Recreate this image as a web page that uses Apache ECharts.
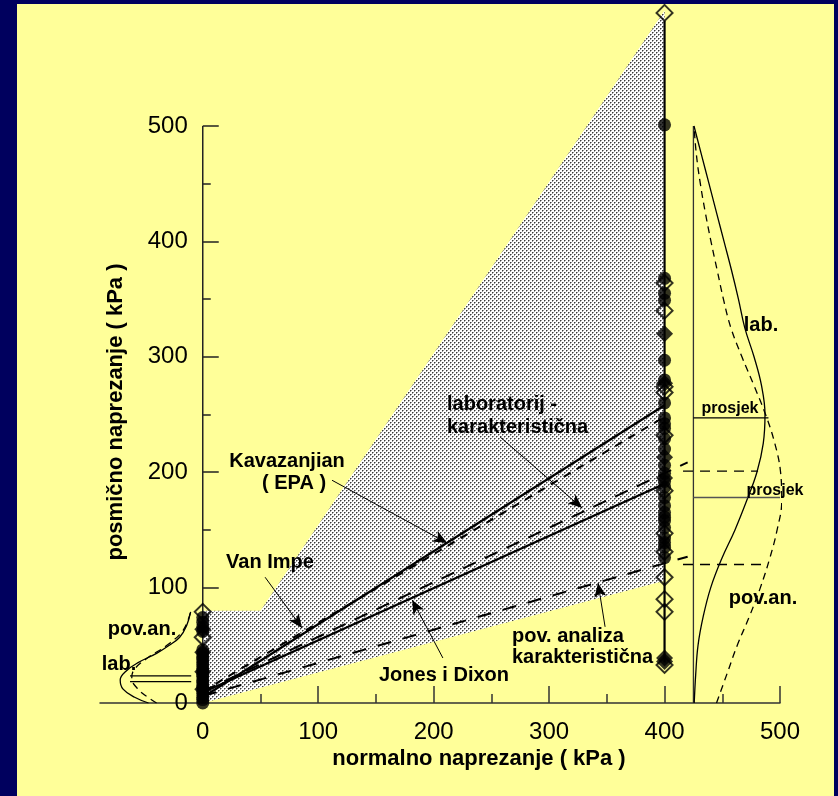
<!DOCTYPE html>
<html>
<head>
<meta charset="utf-8">
<script src="https://cdn.jsdelivr.net/npm/echarts@6/dist/echarts.min.js"></script>
<style>
html,body{margin:0;padding:0;background:#00005e;}
#main{width:838px;height:796px;}
</style>
</head>
<body>
<div id="main"></div>
<script>
// ---------------- data ----------------
const xTickLabels = [0, 100, 200, 300, 400, 500];
const xMajorTicks = [0, 100, 200, 300, 400, 500];
const xMinorTicks = [50, 150, 250, 350, 450];
const yTickLabels = [0, 100, 200, 300, 400, 500];
const yMajorTicks = [100, 200, 300, 400, 500];
const yMinorTicks = [50, 150, 250, 350, 450];

// shaded envelope (normal stress, shear stress)
const shadeX = [0, 0, 50, 400, 400];
const shadeY = [0, 80, 80, 600, 106];

// strength envelopes
const kavX = [0, 400];      const kavY = [5, 258];        // Kavazanjian (EPA)
const vanX = [0, 400];      const vanY = [10, 248];       // Van Impe
const labKarX = [0, 420];   const labKarY = [10, 208.5];  // laboratorij - karakteristična
const jonesX = [0, 400];    const jonesY = [9, 190];      // Jones i Dixon
const povKarX = [0, 420];   const povKarY = [6, 126.8];   // pov. analiza karakteristična

// y-axis line extent
const yAxisLineX = [0, 0];  const yAxisLineY = [0, 500];

// measured points at normal stress 400 kPa
const col400LineX = [400, 400]; const col400LineY = [35, 591];
const col400HollowY = [598, 364, 340, 274, 269, 232, 184, 147, 131, 109, 90, 79, 33];
const col400CircleY = [501, 368, 355, 349, 297, 280, 260, 247, 242, 238, 229, 220, 206, 199, 192, 187, 178, 171, 165, 161, 158, 152, 143, 139, 135, 126];
const col400DiamondY = [320, 277, 213, 195, 39, 36];

// measured points at normal stress 0 kPa
const col0HollowY = [79, 57];
const col0CircleY = [0, 3, 5, 8, 10, 13, 15, 18, 20, 23, 25, 28, 30, 33, 35, 38, 40, 43, 46, 62, 66, 70, 74];
const col0DiamondY = [12, 27, 44, 64];

// right-side distributions (drawn along shear-stress axis, baseline at 425)
const rBaseX = [425, 425]; const rBaseY = [0, 500];
const rLabY = [0, 25, 50, 75, 100, 125, 150, 175, 200, 225, 250, 275, 300, 325, 350, 375, 400, 425, 450, 475, 500];
const rLabX = [425.7, 427, 429, 433.5, 440, 449.5, 461, 471, 480, 485.5, 487, 484, 477.5, 469.5, 464, 458, 451.5, 445, 438.5, 432, 425.5];
const rPovY = [0, 25, 50, 75, 100, 125, 150, 175, 200, 225, 250, 275, 300, 325, 350, 375, 400, 425, 450, 475, 500];
const rPovX = [445, 454, 463, 473.5, 483, 491, 497.5, 501.5, 500.5, 495.5, 487.5, 477.5, 467, 457.5, 451, 445.6, 440.2, 435.3, 431, 427.6, 425.5];
const rLabMeanX = [425, 490];   const rLabMeanY = [247, 247];
const rPovMeanX = [425, 500];   const rPovMeanY = [178, 178];
const rLabKarX = [416, 481];    const rLabKarY = [201, 201];
const rPovKarX = [416, 489];    const rPovKarY = [120, 120];

// left-side distributions (normal stress 0)
const lLabY = [0, 5, 12, 20, 28, 35, 43, 50, 57, 67, 79];
const lLabX = [-47, -59, -69, -71.5, -66, -56, -40, -29, -20, -14, -10.5];
const lPovY = [0, 6, 13, 21, 28, 39, 50, 63, 79];
const lPovX = [-40, -49, -57, -61.5, -60, -48, -31, -17, -10.5];
const lMean1X = [-63, -10]; const lMean1Y = [23.5, 23.5];
const lMean2X = [-63, -10]; const lMean2Y = [18.5, 18.5];

// annotation arrows [fromX, fromY, toX, toY]
const arrowKav = [112, 193, 211.7, 138.6];
const arrowVan = [54, 109, 86, 65];
const arrowLab = [257.6, 230.5, 328.6, 169];
const arrowJones = [208, 39, 181.4, 89.3];
const arrowPov = [348.5, 66, 342.4, 104];

// ---------------- chart ----------------
const FONT = 'Arial, "Liberation Sans", Helvetica, sans-serif';
const zip = (xs, ys) => xs.map((x, i) => [x, ys[i]]);
const col = (x, ys) => ys.map(y => [x, y]);

const GRID_LEFT = 100, GRID_RIGHT = 58, X_MIN = -89, X_MAX = 500;
const plotW = 838 - GRID_LEFT - GRID_RIGHT;
const yAxisOffset = -(0 - X_MIN) / (X_MAX - X_MIN) * plotW; // move y axis onto x = 0

const pat = document.createElement('canvas');
pat.width = 4; pat.height = 4;
const pctx = pat.getContext('2d');
pctx.fillStyle = '#ffffff'; pctx.fillRect(0, 0, 4, 4);
pctx.fillStyle = '#3a3a3a';
pctx.fillRect(0, 0, 1, 1); pctx.fillRect(2, 2, 1, 1);
pctx.fillStyle = '#9a9a9a';
pctx.fillRect(1, 0, 1, 1); pctx.fillRect(0, 1, 1, 1); pctx.fillRect(3, 2, 1, 1); pctx.fillRect(2, 3, 1, 1);

function lineSeries(data, opts) {
  return Object.assign({
    type: 'line', data: data, symbol: 'none', silent: true, z: 3,
    lineStyle: Object.assign({ color: '#000', width: 2, type: 'solid' }, opts.lineStyle || {}),
    smooth: opts.smooth || false,
    animation: false
  }, opts.extra || {});
}
function arrow(a) { return [{ coord: [a[0], a[1]] }, { coord: [a[2], a[3]] }]; }
function label(text, x, y, size, align) {
  return { type: 'text', x: x, y: y, z: 100, silent: true,
    style: { text: text, font: 'bold ' + size + 'px ' + FONT, fill: '#000', textAlign: align || 'center', textVerticalAlign: 'middle' } };
}

const chart = echarts.init(document.getElementById('main'), null, { renderer: 'canvas' });

const option = {
  backgroundColor: '#00005e',
  animation: false,
  grid: { left: GRID_LEFT, right: GRID_RIGHT, top: 10.6, bottom: 93, containLabel: false },
  xAxis: [
    {
      type: 'value', min: X_MIN, max: X_MAX, position: 'bottom',
      axisLine: { show: true, onZero: false, lineStyle: { color: '#333', width: 1.5 } },
      axisTick: { show: true, inside: true, length: 17, customValues: xMajorTicks, lineStyle: { color: '#333', width: 1.5 } },
      axisLabel: { show: true, customValues: xTickLabels, margin: 17, fontSize: 24, color: '#000', fontFamily: FONT },
      splitLine: { show: false }
    },
    {
      type: 'value', min: X_MIN, max: X_MAX, position: 'bottom',
      axisLine: { show: false, onZero: false },
      axisTick: { show: true, inside: true, length: 9, customValues: xMinorTicks, lineStyle: { color: '#333', width: 1.5 } },
      axisLabel: { show: false },
      splitLine: { show: false }
    }
  ],
  yAxis: [
    {
      type: 'value', min: 0, max: 600, position: 'left', offset: yAxisOffset,
      axisLine: { show: false, onZero: false },
      axisTick: { show: true, inside: true, length: 16, customValues: yMajorTicks, lineStyle: { color: '#222', width: 1.5 } },
      axisLabel: { show: true, customValues: yTickLabels, margin: 15, fontSize: 24, color: '#000', fontFamily: FONT },
      splitLine: { show: false }
    },
    {
      type: 'value', min: 0, max: 600, position: 'left', offset: yAxisOffset,
      axisLine: { show: false, onZero: false },
      axisTick: { show: true, inside: true, length: 8, customValues: yMinorTicks, lineStyle: { color: '#222', width: 1.5 } },
      axisLabel: { show: false },
      splitLine: { show: false }
    }
  ],
  graphic: [
    { type: 'rect', z: -100, silent: true, shape: { x: 17, y: 4, width: 817, height: 792 }, style: { fill: '#FFFF99' } },
    label('normalno naprezanje ( kPa )', 479, 759, 22),
    { type: 'text', x: 116, y: 412, z: 100, rotation: Math.PI / 2, silent: true,
      style: { text: 'posmično naprezanje ( kPa )', font: 'bold 22px ' + FONT, fill: '#000', textAlign: 'center', textVerticalAlign: 'middle' } },
    label('Kavazanjian', 287, 461, 20),
    label('( EPA )', 294, 483, 20),
    label('Van Impe', 270, 562, 20),
    label('laboratorij -', 447, 404, 20, 'left'),
    label('karakteristična', 447, 427, 20, 'left'),
    label('Jones i Dixon', 444, 675, 20),
    label('pov. analiza', 512, 636, 20, 'left'),
    label('karakteristična', 512, 657, 20, 'left'),
    label('lab.', 761, 325, 20),
    label('pov.an.', 763, 598, 20),
    label('prosjek', 730, 409, 16),
    label('prosjek', 775, 491, 16),
    label('pov.an.', 142, 629, 20),
    label('lab.', 119, 664, 20)
  ],
  series: [
    {
      type: 'custom', coordinateSystem: 'cartesian2d', silent: true, z: 1, clip: false,
      data: [[0, 0]],
      renderItem: function (params, api) {
        const pts = shadeX.map((x, i) => api.coord([x, shadeY[i]]));
        return { type: 'polygon', shape: { points: pts }, style: { fill: { image: pat, repeat: 'repeat' }, stroke: null } };
      }
    },
    lineSeries(zip(yAxisLineX, yAxisLineY), { lineStyle: { color: '#222', width: 1.5 } }),
    lineSeries(zip(vanX, vanY), { lineStyle: { type: [8, 7], width: 2 } }),
    lineSeries(zip(labKarX, labKarY), { lineStyle: { type: [14, 10], width: 2 } }),
    lineSeries(zip(povKarX, povKarY), { lineStyle: { type: [14, 12], width: 2 } }),
    lineSeries(zip(kavX, kavY), {
      lineStyle: { width: 2.2 },
      extra: {
        markLine: {
          silent: true, animation: false,
          symbol: ['none', 'arrow'], symbolSize: [9, 14],
          label: { show: false },
          lineStyle: { color: '#000', width: 1, type: 'solid' },
          data: [arrow(arrowKav), arrow(arrowVan), arrow(arrowLab), arrow(arrowJones), arrow(arrowPov)]
        }
      }
    }),
    lineSeries(zip(jonesX, jonesY), { lineStyle: { width: 2.2 } }),
    // right distributions
    lineSeries(zip(rBaseX, rBaseY), { lineStyle: { color: '#333', width: 1.3 } }),
    lineSeries(zip(rLabX, rLabY), { smooth: 0.4, lineStyle: { width: 1.3 } }),
    lineSeries(zip(rPovX, rPovY), { smooth: 0.4, lineStyle: { width: 1.3, type: [7, 5] } }),
    lineSeries(zip(rLabMeanX, rLabMeanY), { lineStyle: { width: 1.3 } }),
    lineSeries(zip(rPovMeanX, rPovMeanY), { lineStyle: { width: 1.5, color: '#555' } }),
    lineSeries(zip(rLabKarX, rLabKarY), { lineStyle: { width: 1.3, type: [10, 7] } }),
    lineSeries(zip(rPovKarX, rPovKarY), { lineStyle: { width: 1.3, type: [10, 7] } }),
    // left distributions
    lineSeries(zip(lLabX, lLabY), { smooth: 0.4, lineStyle: { width: 1.3 } }),
    lineSeries(zip(lPovX, lPovY), { smooth: 0.4, lineStyle: { width: 1.3, type: [7, 5] } }),
    lineSeries(zip(lMean1X, lMean1Y), { lineStyle: { width: 1.2 } }),
    lineSeries(zip(lMean2X, lMean2Y), { lineStyle: { width: 1.2 } }),
    // vertical line at 400
    lineSeries(zip(col400LineX, col400LineY), { lineStyle: { width: 2.2 } }),
    // markers
    { type: 'scatter', silent: true, z: 5, symbol: 'circle', symbolSize: 13, itemStyle: { color: '#000' }, data: col(400, col400CircleY).concat(col(0, col0CircleY)) },
    { type: 'scatter', silent: true, z: 5, symbol: 'diamond', symbolSize: 17, itemStyle: { color: '#000' }, data: col(400, col400DiamondY).concat(col(0, col0DiamondY)) },
    { type: 'scatter', silent: true, z: 6, symbol: 'diamond', symbolSize: 16, itemStyle: { color: 'rgba(0,0,0,0)', borderColor: '#000', borderWidth: 2 }, data: col(400, col400HollowY).concat(col(0, col0HollowY)) }
  ]
};
chart.setOption(option);
</script>
</body>
</html>
